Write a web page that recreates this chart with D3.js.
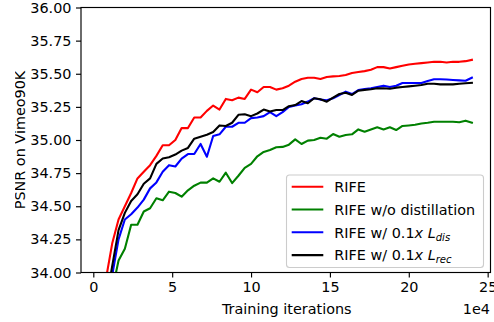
<!DOCTYPE html>
<html><head><meta charset="utf-8">
<script src="https://cdn.jsdelivr.net/npm/d3@7"></script>
<style>body{margin:0;background:#fff}svg{display:block}text{font-family:"DejaVu Sans",sans-serif}</style>
</head><body>
<svg id="c" width="494" height="322"></svg>
<script>
const iterations = d3.range(1, 61).map(k => +(0.4 * k).toFixed(1));
const rife = [33.20,33.95,34.22,34.40,34.50,34.60,34.71,34.76,34.81,34.88,34.96,34.96,35.00,35.09,35.09,35.17,35.17,35.22,35.26,35.23,35.31,35.30,35.32,35.31,35.38,35.36,35.40,35.40,35.38,35.39,35.41,35.44,35.46,35.47,35.47,35.46,35.475,35.48,35.483,35.49,35.505,35.513,35.52,35.53,35.55,35.55,35.54,35.55,35.56,35.57,35.575,35.58,35.585,35.59,35.59,35.585,35.59,35.59,35.595,35.605];
const noDistill = [32.80,33.30,33.865,34.09,34.18,34.36,34.36,34.46,34.485,34.56,34.545,34.61,34.60,34.572,34.62,34.655,34.678,34.678,34.71,34.685,34.753,34.675,34.73,34.79,34.82,34.877,34.91,34.925,34.945,34.948,34.965,35.005,34.97,34.995,35.00,35.017,35.01,35.045,35.025,35.038,35.043,35.08,35.063,35.08,35.096,35.08,35.096,35.075,35.106,35.11,35.115,35.125,35.13,35.138,35.138,35.138,35.138,35.134,35.146,35.13];
const ldis = [33.00,33.50,33.98,34.25,34.40,34.44,34.49,34.55,34.635,34.68,34.76,34.81,34.80,34.86,34.894,34.894,34.97,34.874,35.03,35.043,35.10,35.10,35.13,35.13,35.165,35.17,35.18,35.21,35.18,35.21,35.25,35.26,35.27,35.29,35.315,35.305,35.30,35.315,35.34,35.365,35.347,35.377,35.385,35.39,35.40,35.41,35.40,35.41,35.43,35.43,35.43,35.43,35.445,35.458,35.458,35.457,35.453,35.45,35.447,35.47];
const lrec = [33.00,33.766,34.05,34.32,34.45,34.54,34.59,34.67,34.71,34.82,34.86,34.87,34.89,34.92,34.94,35.01,35.025,35.04,35.06,35.11,35.106,35.13,35.19,35.194,35.18,35.20,35.23,35.215,35.226,35.226,35.255,35.264,35.294,35.277,35.315,35.307,35.289,35.32,35.347,35.357,35.34,35.372,35.378,35.383,35.39,35.39,35.387,35.395,35.40,35.405,35.41,35.415,35.425,35.425,35.42,35.42,35.42,35.425,35.428,35.432];
const xTicks = [0,5,10,15,20,25];
const yTicks = [34.00,34.25,34.50,34.75,35.00,35.25,35.50,35.75,36.00];
const seriesNames = ["RIFE","RIFE w/o distillation","RIFE w/ 0.1x L_dis","RIFE w/ 0.1x L_rec"];
const seriesColors = ["#ff0000","#008000","#0000ff","#000000"];
const seriesValues = [rife, noDistill, ldis, lrec];

const svg = d3.select("#c");
const L = 81, R = 490.5, T = 7.5, B = 272.5;
const x = d3.scaleLinear().domain([-0.78, 25.18]).range([L, R]);
const y = d3.scaleLinear().domain([34, 36]).range([B, T]);
const fs = 14.4;

svg.append("clipPath").attr("id","plotclip").append("rect")
  .attr("x", L).attr("y", T).attr("width", R - L).attr("height", B - T);

const line = d3.line().x((d,i) => x(iterations[i])).y(d => y(d));
const g = svg.append("g").attr("clip-path","url(#plotclip)");
seriesValues.forEach((vals, k) => {
  g.append("path").attr("d", line(vals)).attr("fill","none")
    .attr("stroke", seriesColors[k]).attr("stroke-width", 2.1)
    .attr("stroke-linejoin","round").attr("stroke-linecap","square");
});

// axes
const xAxis = svg.append("g").attr("transform", `translate(0,${B})`)
  .call(d3.axisBottom(x).tickValues(xTicks).tickFormat(d3.format("d")).tickSize(5).tickPadding(4));
const yAxis = svg.append("g").attr("transform", `translate(${L},0)`)
  .call(d3.axisLeft(y).tickValues(yTicks).tickFormat(d3.format(".2f")).tickSize(5).tickPadding(4.5));
[xAxis, yAxis].forEach(a => {
  a.select(".domain").remove();
  a.selectAll("line").attr("stroke","#000").attr("stroke-width",1.15);
  a.selectAll("text").attr("font-size", fs).attr("fill","#000").style("font-family",'"DejaVu Sans",sans-serif');
});
// spines
svg.append("rect").attr("x", L).attr("y", T).attr("width", R - L).attr("height", B - T)
  .attr("fill","none").attr("stroke","#000").attr("stroke-width",1.15);

// labels
svg.append("text").attr("x", (L + R) / 2 + 1).attr("y", 314).attr("text-anchor","middle")
  .attr("font-size", fs).text("Training iterations");
svg.append("text").attr("x", 490).attr("y", 314).attr("text-anchor","end")
  .attr("font-size", fs).text("1e4");
svg.append("clipPath").attr("id","ylclip").append("rect").attr("x",15).attr("y",0).attr("width",60).attr("height",322);
svg.append("g").attr("clip-path","url(#ylclip)").append("text")
  .attr("transform", `translate(24.5,${(T + B) / 2}) rotate(-90)`)
  .attr("text-anchor","middle").attr("font-size", fs).text("PSNR on Vimeo90K");

// legend
const lg = svg.append("g");
lg.append("rect").attr("x", 286.5).attr("y", 175).attr("width", 197).attr("height", 92.5)
  .attr("rx", 3).attr("fill","#fff").attr("fill-opacity",0.8)
  .attr("stroke","#cccccc").attr("stroke-width",1.1);
const rowY = [186.7, 209.5, 232.3, 255.1];
seriesNames.forEach((name, k) => {
  lg.append("line").attr("x1", 291.7).attr("x2", 323.3).attr("y1", rowY[k]).attr("y2", rowY[k])
    .attr("stroke", seriesColors[k]).attr("stroke-width", 2.1);
  const t = lg.append("text").attr("x", 334.3).attr("y", rowY[k] + 5.2).attr("font-size", fs);
  if (name.includes("L_")) {
    const sub = name.split("L_")[1];
    t.append("tspan").text("RIFE w/ 0.1");
    t.append("tspan").attr("font-style","italic").text("x");
    t.append("tspan").text(" ");
    t.append("tspan").attr("font-style","italic").text("L");
    t.append("tspan").attr("font-style","italic").attr("font-size", fs * 0.7).attr("dy", 3).text(sub);
  } else {
    t.text(name);
  }
});
</script>
</body></html>
